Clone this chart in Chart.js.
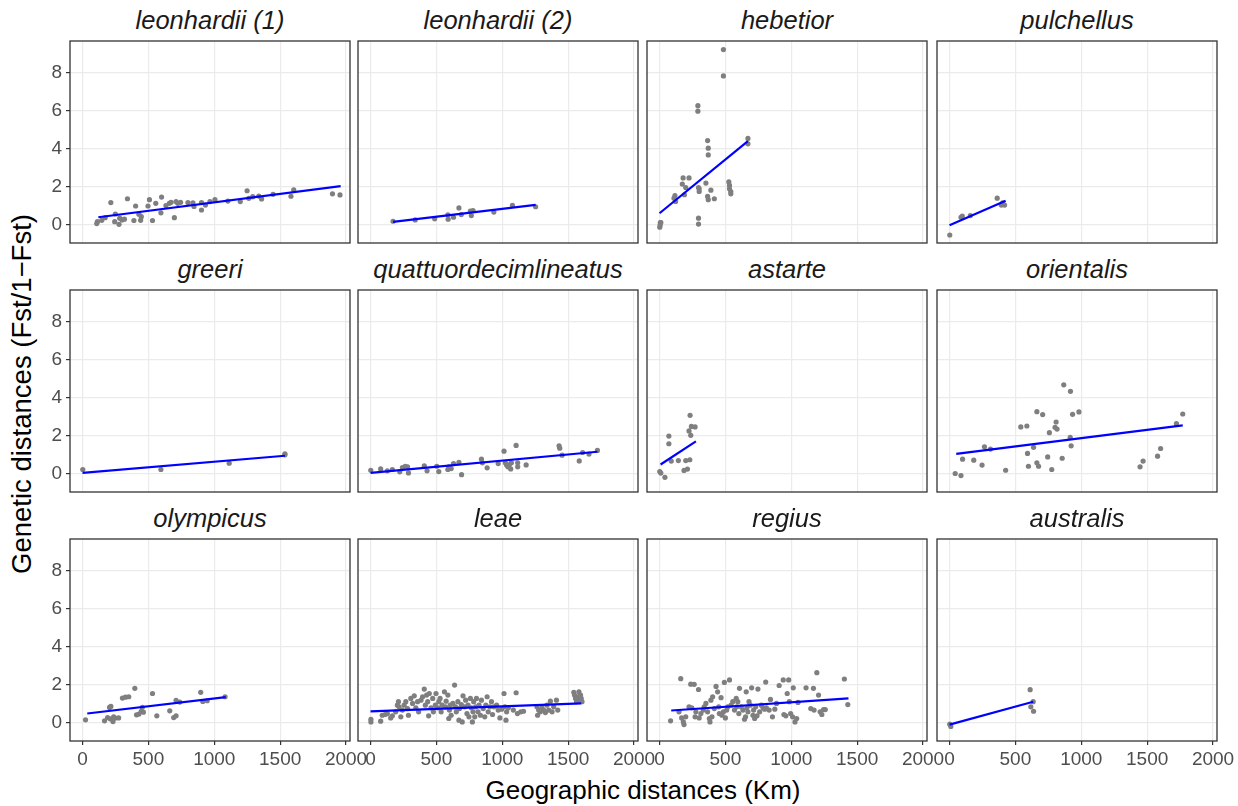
<!DOCTYPE html>
<html>
<head>
<meta charset="utf-8">
<script src="https://cdn.jsdelivr.net/npm/chart.js@4.4.1/dist/chart.umd.min.js"></script>
<style>
  body { margin: 0; background: #fff; width: 1238px; height: 806px; position: relative; overflow: hidden; font-family: 'Liberation Sans', Arial, sans-serif; }
  .panel { position: absolute; }
  .strip { position: absolute; text-align: center; font-style: italic; font-size: 25.5px; line-height: 30px; height: 30px; color: #1a1a1a; white-space: nowrap; }
  .title { position: absolute; font-size: 26px; color: #000; white-space: nowrap; }
  #xtitle { left: 643px; top: 790px; transform: translate(-50%, -50%); }
  #ytitle { left: 22px; top: 394px; font-size: 27.5px; transform: translate(-50%, -50%) rotate(-90deg); }
</style>
</head>
<body>
<div class="title" id="xtitle">Geographic distances (Km)</div>
<div class="title" id="ytitle">Genetic distances (Fst/1−Fst)</div>
<script>
// axis ticks
const xTicks = [0, 500, 1000, 1500, 2000];
const yTicks = [0, 2, 4, 6, 8];

// facet names
const species = ['leonhardii (1)', 'leonhardii (2)', 'hebetior', 'pulchellus',
  'greeri', 'quattuordecimlineatus', 'astarte', 'orientalis',
  'olympicus', 'leae', 'regius', 'australis'];

// [km, Fst/(1-Fst)] pairs
const leonhardii1 = [[108,0.07],[113,0.17],[146,0.24],[172,0.38],[215,1.17],[249,0.57],[244,0.17],[277,0.03],
  [282,0.35],[300,0.26],[318,0.30],[341,1.37],[390,0.23],[403,0.99],[428,0.56],[441,0.24],[446,0.43],[497,0.99],
  [508,1.32],[531,0.23],[556,1.13],[595,0.63],[600,1.46],[633,1.01],[659,1.13],[672,1.18],[697,0.38],[710,1.22],
  [723,1.13],[744,1.18],[800,1.17],[838,1.15],[846,0.97],[903,1.17],[903,0.78],[933,1.04],[967,1.22],[1005,1.32],
  [1103,1.25],[1197,1.22],[1249,1.79],[1262,1.39],[1292,1.48],[1338,1.51],[1359,1.36],[1446,1.60],[1582,1.50],
  [1603,1.83],[1897,1.63],[1954,1.57]];
const leonhardii2 = [[171,0.19],[339,0.26],[487,0.32],[587,0.53],[589,0.30],[630,0.40],[671,0.89],[689,0.54],
  [758,0.72],[765,0.49],[778,0.75],[936,0.67],[1077,1.02],[1253,0.95]];
const hebetior = [[2,-0.12],[5,0.0],[6,0.12],[10,0.12],[485,9.19],[485,7.81],[291,6.25],[291,5.96],[365,4.42],
  [370,4.02],[370,3.67],[671,4.53],[671,4.25],[179,2.46],[224,2.46],[173,2.14],[199,1.96],[117,1.53],[110,1.40],
  [122,1.23],[189,1.58],[296,1.96],[301,1.75],[352,2.19],[390,1.82],[365,1.49],[370,1.32],[416,1.37],[296,0.35],
  [296,0.04],[526,2.25],[531,2.07],[531,1.89],[541,1.75],[541,1.63],[301,1.89]];
const pulchellus = [[2,-0.53],[87,0.40],[97,0.46],[158,0.49],[362,1.40],[393,1.04],[418,1.04],[403,1.16]];
const greeri = [[2,0.23],[595,0.23],[1113,0.56],[1536,1.05],[1536,1.0]];
const quattuordecimlineatus = [[2,0.19],[77,0.26],[128,0.16],[166,0.23],[222,0.11],[242,0.33],[263,0.40],[281,0.37],
  [288,0.05],[408,0.42],[429,0.16],[503,0.40],[518,0.12],[587,0.23],[594,0.37],[612,0.28],[630,0.54],[671,0.60],
  [691,-0.04],[842,0.77],[849,0.58],[885,0.32],[969,0.54],[1013,1.19],[1023,0.58],[1033,0.46],[1043,0.37],
  [1054,0.49],[1064,0.26],[1069,0.58],[1105,1.49],[1117,0.58],[1117,0.37],[1181,0.47],[1431,1.47],[1436,1.35],
  [1454,0.98],[1584,0.68],[1610,1.12],[1658,1.04],[1722,1.23]];
const astarte = [[2,0.12],[10,0.04],[41,-0.18],[71,1.98],[71,1.58],[89,0.67],[143,0.70],[186,0.18],[212,0.25],
  [199,0.70],[230,0.74],[232,3.07],[242,2.49],[270,2.46],[224,2.25],[237,2.02]];
const orientalis = [[43,0.02],[87,-0.09],[99,0.77],[184,0.72],[247,0.46],[265,1.42],[311,1.30],[426,0.19],[541,2.46],
  [587,2.51],[592,1.07],[599,0.40],[638,1.39],[663,3.26],[663,0.58],[676,0.40],[707,3.11],[745,0.89],[758,2.16],
  [776,0.23],[809,2.72],[801,2.44],[816,2.35],[855,0.82],[867,4.67],[916,1.91],[918,4.33],[923,1.47],[934,3.12],
  [982,3.25],[1446,0.37],[1469,0.67],[1579,0.93],[1602,1.33],[1722,2.63],[1770,3.14]];
const olympicus = [[23,0.16],[167,0.11],[190,0.28],[205,0.81],[210,0.21],[215,0.86],[231,0.07],[236,0.32],[249,0.25],
  [274,0.26],[303,1.30],[326,1.35],[351,1.37],[397,1.81],[410,0.42],[428,0.46],[446,0.61],[454,0.82],[462,0.56],
  [531,1.54],[564,0.37],[662,0.63],[692,0.28],[710,0.37],[710,1.18],[738,1.09],[897,1.60],[913,1.12],[946,1.16],
  [1082,1.37]];
const leae = [[3,0.19],[3,0.05],[77,0.09],[89,0.40],[110,0.44],[128,0.49],[153,0.26],[166,0.37],[191,0.58],[204,0.93],
  [212,1.11],[217,0.84],[230,0.32],[242,0.67],[255,0.93],[268,1.11],[281,0.75],[288,0.40],[306,1.28],[319,1.02],
  [332,1.42],[344,0.79],[357,1.11],[365,0.58],[383,1.19],[395,1.37],[408,1.77],[416,0.93],[426,1.46],[434,1.11],
  [441,0.37],[446,1.54],[459,0.79],[472,1.28],[477,0.58],[492,0.93],[497,1.54],[510,0.79],[518,1.11],[528,1.28],
  [536,0.58],[543,0.93],[561,1.63],[569,0.84],[574,1.14],[587,1.46],[594,0.23],[599,0.67],[605,0.93],[612,0.40],
  [625,1.02],[638,1.98],[645,0.84],[651,0.58],[663,1.11],[671,0.14],[676,0.75],[689,0.96],[696,0.05],[702,1.42],
  [714,0.84],[722,1.19],[732,0.49],[740,0.93],[747,0.32],[758,1.28],[765,0.79],[773,0.05],[778,0.58],[783,1.11],
  [791,0.32],[798,0.84],[804,1.28],[816,0.58],[824,0.93],[834,0.40],[842,1.19],[855,0.75],[867,0.32],[875,0.93],
  [885,1.37],[893,0.58],[906,0.84],[918,1.11],[926,0.44],[936,0.84],[957,0.93],[969,0.67],[982,0.26],[995,0.72],
  [1013,1.54],[1020,0.84],[1028,0.14],[1033,0.58],[1046,0.79],[1084,0.67],[1105,1.58],[1115,0.49],[1140,0.58],
  [1161,0.61],[1263,0.84],[1268,0.40],[1276,0.67],[1288,0.58],[1301,0.79],[1314,0.67],[1327,0.54],[1339,0.93],
  [1352,0.67],[1365,1.14],[1378,0.58],[1390,0.84],[1411,1.19],[1421,0.67],[1543,1.60],[1548,1.46],[1556,1.28],
  [1564,1.11],[1569,1.37],[1582,1.63],[1589,1.19],[1594,1.46],[1599,1.28],[1605,1.11]];
const regius = [[84,0.11],[161,2.32],[148,0.58],[168,0.26],[181,0.05],[186,-0.09],[199,0.32],[224,0.84],[237,2.03],
  [245,0.79],[263,2.02],[270,0.32],[276,0.58],[296,1.75],[301,0.26],[314,0.49],[332,0.67],[339,0.84],[352,1.02],
  [365,0.58],[378,0.23],[383,0.05],[390,1.19],[398,0.32],[403,1.37],[416,0.75],[429,1.91],[441,1.63],[449,0.84],
  [454,0.49],[467,1.32],[474,0.40],[485,0.58],[492,2.12],[500,0.26],[510,0.67],[518,0.84],[531,2.25],[543,0.93],
  [556,1.11],[569,0.67],[582,1.28],[587,0.84],[594,1.11],[602,0.49],[607,1.81],[620,0.84],[633,0.67],[645,0.19],
  [653,0.32],[658,1.63],[663,0.79],[671,0.58],[679,1.11],[689,0.93],[699,1.84],[709,0.40],[714,0.67],[722,0.23],
  [730,0.84],[740,0.37],[747,1.77],[760,0.58],[773,0.93],[786,0.79],[798,0.72],[806,2.14],[811,0.79],[832,0.67],
  [842,1.23],[857,0.32],[875,0.72],[888,1.02],[908,1.96],[939,2.25],[944,0.44],[959,0.37],[969,1.54],[980,2.25],
  [985,1.11],[995,0.49],[1010,0.32],[1015,1.84],[1028,0.05],[1041,0.23],[1051,1.07],[1112,1.84],[1148,0.75],
  [1168,1.81],[1173,0.67],[1207,1.46],[1219,0.58],[1232,0.44],[1245,0.70],[1258,0.70],[1194,2.63],[1403,2.30],
  [1429,0.96]];
const australis = [[2,-0.07],[10,-0.19],[612,1.74],[617,0.84],[635,1.11],[638,0.61]];

// fitted line ends
const leonhardii1Fit = [[120,0.40],[1959,2.03]];
const leonhardii2Fit = [[171,0.16],[1253,1.05]];
const hebetiorFit = [[0,0.61],[671,4.39]];
const pulchellusFit = [[0,-0.02],[426,1.26]];
const greeriFit = [[0,0.05],[1536,0.95]];
const quattuordecimlineatusFit = [[0,0.05],[1722,1.16]];
const astarteFit = [[8,0.49],[276,1.70]];
const orientalisFit = [[51,1.05],[1770,2.54]];
const olympicusFit = [[36,0.49],[1087,1.35]];
const leaeFit = [[0,0.60],[1599,1.02]];
const regiusFit = [[89,0.65],[1434,1.28]];
const australisFit = [[0,-0.09],[635,1.11]];

const points = [leonhardii1, leonhardii2, hebetior, pulchellus, greeri, quattuordecimlineatus,
  astarte, orientalis, olympicus, leae, regius, australis];
const fits = [leonhardii1Fit, leonhardii2Fit, hebetiorFit, pulchellusFit, greeriFit, quattuordecimlineatusFit,
  astarteFit, orientalisFit, olympicusFit, leaeFit, regiusFit, australisFit];

// facet grid geometry
const colLeft = [70, 358, 647, 937];
const rowTop = [41, 290, 539];
const panelW = 280, panelH = 202;
const pad = 3;
const fontFamily = "'Liberation Sans', Arial, sans-serif";

// panel.border like theme_bw
const panelBorder = {
  id: 'panelBorder',
  afterDraw(chart) {
    const a = chart.chartArea, ctx = chart.ctx;
    ctx.save();
    ctx.strokeStyle = '#333333';
    ctx.lineWidth = 1.3;
    ctx.strokeRect(a.left, a.top, a.right - a.left, a.bottom - a.top);
    ctx.restore();
  }
};

function toXY(arr) {
  return arr.map(p => ({ x: p[0], y: p[1] }));
}

species.forEach(function(name, i) {
  var col = i % 4, row = Math.floor(i / 4);
  var showY = col === 0, showX = row === 2;
  var yW = showY ? 46 : 0, xH = showX ? 30 : 0, extraR = showX ? 24 : 0;

  var box = document.createElement('div');
  box.className = 'panel';
  box.style.left = (colLeft[col] - yW - pad) + 'px';
  box.style.top = (rowTop[row] - pad) + 'px';
  box.style.width = (panelW + yW + 2 * pad + extraR) + 'px';
  box.style.height = (panelH + xH + 2 * pad) + 'px';
  var cv = document.createElement('canvas');
  box.appendChild(cv);
  document.body.appendChild(box);

  var strip = document.createElement('div');
  strip.className = 'strip';
  strip.style.left = colLeft[col] + 'px';
  strip.style.width = panelW + 'px';
  strip.style.top = (rowTop[row] - 36) + 'px';
  strip.textContent = name;
  document.body.appendChild(strip);

  new Chart(cv, {
    type: 'scatter',
    data: {
      datasets: [
        { data: toXY(fits[i]), showLine: true, borderColor: '#0000FF', borderWidth: 2.2, pointRadius: 0, fill: false },
        { data: toXY(points[i]), backgroundColor: '#7F7F7F', borderWidth: 0, pointRadius: 2.6 }
      ]
    },
    options: {
      responsive: true,
      maintainAspectRatio: false,
      animation: false,
      layout: { autoPadding: false, padding: { left: pad, right: pad + extraR, top: pad, bottom: pad } },
      plugins: { legend: { display: false }, tooltip: { enabled: false } },
      scales: {
        x: {
          type: 'linear', min: -95, max: 2030,
          afterBuildTicks: s => { s.ticks = xTicks.map(v => ({ value: v })); },
          afterFit: s => { s.height = xH; s.paddingLeft = 0; s.paddingRight = 0; },
          grid: { color: '#EBEBEB', lineWidth: 1.2, drawTicks: showX, tickLength: 4, tickColor: '#333333', tickWidth: 1.2 },
          border: { display: false },
          ticks: { display: showX, color: '#4D4D4D', font: { family: fontFamily, size: 19 }, padding: 3, maxRotation: 0, autoSkip: false,
            callback: v => String(v) }
        },
        y: {
          type: 'linear', min: -0.95, max: 9.64,
          afterBuildTicks: s => { s.ticks = yTicks.map(v => ({ value: v })); },
          afterFit: s => { s.width = yW; s.paddingTop = 0; s.paddingBottom = 0; },
          grid: { color: '#EBEBEB', lineWidth: 1.2, drawTicks: showY, tickLength: 4, tickColor: '#333333', tickWidth: 1.2 },
          border: { display: false },
          ticks: { display: showY, color: '#4D4D4D', font: { family: fontFamily, size: 19 }, padding: 4,
            callback: v => String(v) }
        }
      }
    },
    plugins: [panelBorder]
  });
});
</script>
</body>
</html>
